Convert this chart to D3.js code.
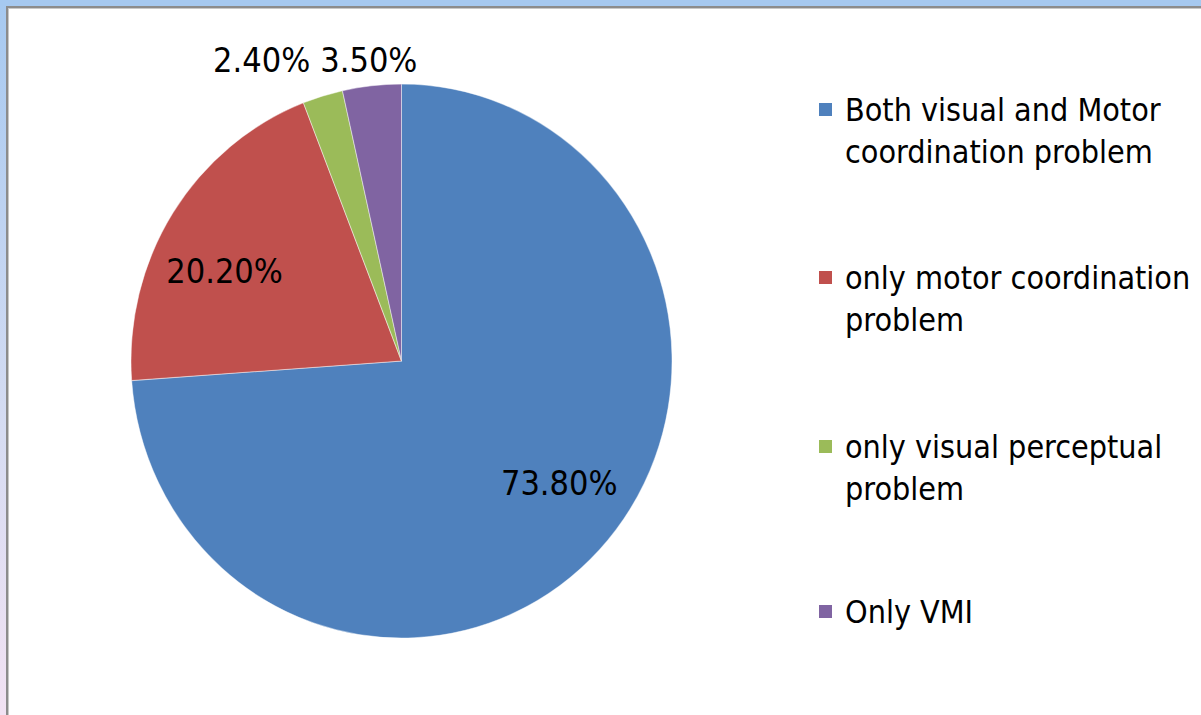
<!DOCTYPE html>
<html>
<head>
<meta charset="utf-8">
<script src="https://cdn.jsdelivr.net/npm/d3@7"></script>
<style>
  html, body { margin: 0; padding: 0; background: #fff; }
  svg { display: block; }
  text { font-family: "DejaVu Sans Condensed", "DejaVu Sans", sans-serif; font-stretch: condensed; fill: #000; }
</style>
</head>
<body>
<svg id="chart" width="1201" height="715"></svg>
<script>
// Categories and their shares (%)
const categories = [
  "Both visual and Motor coordination problem",
  "only motor coordination problem",
  "only visual perceptual problem",
  "Only VMI"
];
const legendLines = [
  ["Both visual and Motor", "coordination problem"],
  ["only motor coordination", "problem"],
  ["only visual perceptual", "problem"],
  ["Only VMI"]
];
const values = [73.8, 20.2, 2.4, 3.5];
const valueLabels = ["73.80%", "20.20%", "2.40%", "3.50%"];
const colors = ["#4f81bd", "#c0504d", "#9bbb59", "#8064a2"];

const W = 1201, H = 715;
const svg = d3.select("#chart");

// Window frame: blue title strip, gradient side strip, grey border
const defs = svg.append("defs");
const grad = defs.append("linearGradient").attr("id", "side").attr("x1", 0).attr("y1", 0).attr("x2", 0).attr("y2", 1);
grad.append("stop").attr("offset", "0%").attr("stop-color", "#a6c9f0");
grad.append("stop").attr("offset", "60%").attr("stop-color", "#d6dcf2");
grad.append("stop").attr("offset", "100%").attr("stop-color", "#f2e2f3");
svg.append("rect").attr("x", 0).attr("y", 0).attr("width", 7).attr("height", H).attr("fill", "url(#side)");
svg.append("rect").attr("x", 0).attr("y", 0).attr("width", W).attr("height", 6).attr("fill", "#a6c9f0");
svg.append("rect").attr("x", 6).attr("y", 6).attr("width", W - 6).attr("height", H - 6).attr("fill", "#8c8c8c");
svg.append("rect").attr("x", 8).attr("y", 8).attr("width", W - 8).attr("height", H - 8).attr("fill", "#c8c8c8");
svg.append("rect").attr("x", 9).attr("y", 9).attr("width", W - 9).attr("height", H - 9).attr("fill", "#ffffff");

// Pie geometry (drawn slightly taller than wide)
const cx = 401.5, cy = 361, rx = 270.5, ry = 277;
const sy = ry / rx;

const pie = d3.pie().sort(null).value(d => d)(values);
const arc = d3.arc().innerRadius(0).outerRadius(rx);

const g = svg.append("g").attr("transform", `translate(${cx},${cy})`);
const slices = g.append("g").attr("transform", `scale(1,${sy})`);
slices.selectAll("path")
  .data(pie)
  .join("path")
  .attr("d", arc)
  .attr("fill", (d, i) => colors[i])
  .attr("stroke", "rgba(255,255,255,0.45)")
  .attr("stroke-width", 1);

// Data labels: large slices inside, small slices above the rim
const fontSize = 34;
const labelRadius = rx * 0.73;
const labelTurn = -6 * Math.PI / 180;   // labels sit slightly counter-clockwise of the slice middle
const labels = g.append("g");
const outside = [];
pie.forEach((d, i) => {
  const share = (d.endAngle - d.startAngle) / (2 * Math.PI);
  const t = labels.append("text")
    .attr("font-size", fontSize)
    .text(valueLabels[i]);
  const a = (d.startAngle + d.endAngle) / 2;
  if (share > 0.1) {
    const x = Math.sin(a + labelTurn) * labelRadius;
    const y = -Math.cos(a + labelTurn) * labelRadius * sy;
    t.attr("text-anchor", "middle").attr("x", x).attr("y", y + 12);
  } else {
    const w = t.node().getComputedTextLength();
    const x = Math.sin(a) * rx * 1.1;
    outside.push({ t, x, w });
  }
});
// Place small-slice labels in a row above the pie, pushing overlaps apart
outside.sort((a, b) => a.x - b.x);
for (let k = outside.length - 2; k >= 0; k--) {
  const right = outside[k + 1], left = outside[k];
  const gap = 10;
  const maxX = right.x - right.w / 2 - gap - left.w / 2;
  if (left.x > maxX) left.x = maxX;
}
outside.forEach(o => {
  o.t.attr("text-anchor", "middle").attr("x", o.x).attr("y", -ry - 12);
});

// Legend
const legend = svg.append("g").attr("transform", "translate(819,0)");
const legendTop = [103, 271, 440, 605];
const lineGap = 42;
categories.forEach((c, i) => {
  const item = legend.append("g").attr("transform", `translate(0,${legendTop[i]})`);
  item.append("rect").attr("width", 13).attr("height", 13).attr("fill", colors[i]);
  const txt = item.append("text").attr("x", 26).attr("y", 18).attr("font-size", 32);
  legendLines[i].forEach((ln, j) => {
    txt.append("tspan").attr("x", 26).attr("dy", j === 0 ? 0 : lineGap).text(ln);
  });
});
</script>
</body>
</html>
